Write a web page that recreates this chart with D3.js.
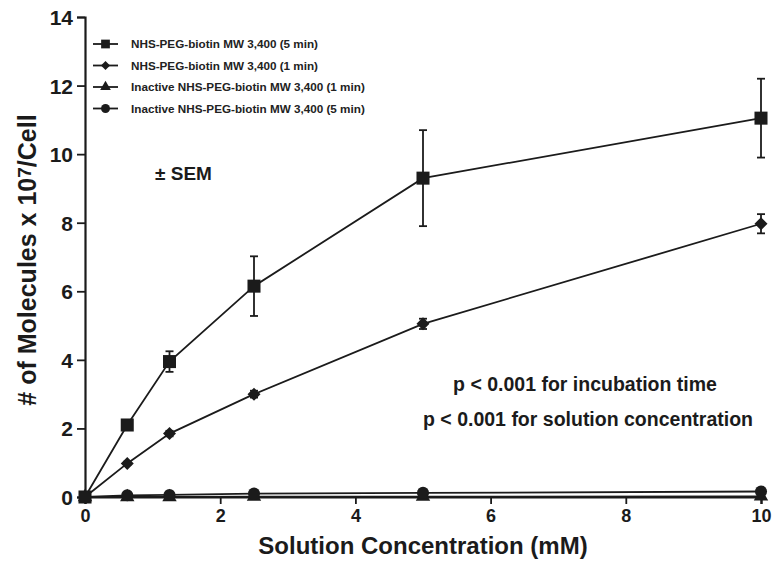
<!DOCTYPE html>
<html>
<head>
<meta charset="utf-8">
<script src="https://cdn.jsdelivr.net/npm/d3@7"></script>
<style>
  body { margin: 0; background: #fff; }
  svg { font-family: "Liberation Sans", Arial, sans-serif; font-weight: bold; }
</style>
</head>
<body>
<div id="chart"></div>
<script>
// concentrations (mM)
var conc = [0, 0.625, 1.25, 2.5, 5, 10];

var labels = [
  "NHS-PEG-biotin MW 3,400 (5 min)",
  "NHS-PEG-biotin MW 3,400 (1 min)",
  "Inactive NHS-PEG-biotin MW 3,400 (1 min)",
  "Inactive NHS-PEG-biotin MW 3,400 (5 min)"
];
var shapes = ["square", "diamond", "triangle", "circle"];

var active5 = [0, 2.1, 3.95, 6.15, 9.3, 11.05];
var active5Sem = [0, 0.1, 0.3, 0.87, 1.4, 1.15];
var active1 = [0, 0.98, 1.85, 3.0, 5.05, 7.97];
var active1Sem = [0, 0.05, 0.08, 0.1, 0.15, 0.28];
var inactive1 = [0, 0.0, 0.0, 0.01, 0.01, 0.02];
var inactive1Sem = [0, 0, 0, 0, 0, 0];
var inactive5 = [0, 0.05, 0.06, 0.1, 0.12, 0.16];
var inactive5Sem = [0, 0, 0, 0, 0, 0];

var xTicks = [0, 2, 4, 6, 8, 10];
var yTicks = [0, 2, 4, 6, 8, 10, 12, 14];

var series = [
  {name: labels[0], shape: shapes[0], vals: active5, sem: active5Sem},
  {name: labels[1], shape: shapes[1], vals: active1, sem: active1Sem},
  {name: labels[2], shape: shapes[2], vals: inactive1, sem: inactive1Sem},
  {name: labels[3], shape: shapes[3], vals: inactive5, sem: inactive5Sem}
];

var W = 773, H = 566;
var ink = "#1b1b1b";

var svg = d3.select("#chart").append("svg")
    .attr("width", W)
    .attr("height", H);

var x = d3.scaleLinear().domain([0, 10]).range([85, 761]);
var y = d3.scaleLinear().domain([0, 14]).range([497, 17]);

// axes
var xAxis = svg.append("g")
    .attr("transform", "translate(0," + y(0) + ")")
    .call(d3.axisBottom(x).tickValues(xTicks).tickSize(7).tickPadding(5).tickFormat(d3.format("d")));
var yAxis = svg.append("g")
    .attr("transform", "translate(" + x(0) + ",0)")
    .call(d3.axisLeft(y).tickValues(yTicks).tickSize(8).tickPadding(4).tickFormat(d3.format("d")));

[xAxis, yAxis].forEach(function(a) {
  a.select(".domain").attr("stroke", ink).attr("stroke-width", 2.2);
  a.selectAll(".tick line").attr("stroke", ink).attr("stroke-width", 1.8);
  a.selectAll(".tick text")
    .attr("fill", ink)
    .style("font-weight", "bold")
    .style("font-family", "'Liberation Sans', Arial, sans-serif");
});
xAxis.selectAll(".tick text").style("font-size", "18px");
yAxis.selectAll(".tick text").style("font-size", "21px").attr("dy", "0.36em");

// axis titles
svg.append("text")
    .attr("x", x(5))
    .attr("y", 554)
    .attr("text-anchor", "middle")
    .attr("fill", ink)
    .style("font-size", "24px")
    .text("Solution Concentration (mM)");

var yt = svg.append("text")
    .attr("transform", "translate(36,260) rotate(-90)")
    .attr("text-anchor", "middle")
    .attr("fill", ink)
    .style("font-size", "25px");
yt.append("tspan").text("# of Molecules x 10");
yt.append("tspan").attr("dy", -5).style("font-size", "19px").text("7");
yt.append("tspan").attr("dy", 5).text("/Cell");

// series
var line = d3.line()
    .x(function(d) { return x(d.c); })
    .y(function(d) { return y(d.v); });

function symbolFor(shape, big) {
  var k = big ? 1 : 0.55;
  if (shape == "square") return d3.symbol().type(d3.symbolSquare).size(170 * (big ? 1 : 0.45));
  if (shape == "diamond") {
    // square rotated 45 degrees
    var r = 6.5 * (big ? 1 : 0.7);
    return function() { return "M0," + (-r) + "L" + r + ",0L0," + r + "L" + (-r) + ",0Z"; };
  }
  if (shape == "triangle") return d3.symbol().type(d3.symbolTriangle).size(90 * k);
  return d3.symbol().type(d3.symbolCircle).size(115 * k);
}

var lineGroup = svg.append("g");
var markGroup = svg.append("g");

series.forEach(function(s) {
  var pts = conc.map(function(c, i) { return {c: c, v: s.vals[i], e: s.sem[i]}; });

  lineGroup.append("path")
      .datum(pts)
      .attr("d", line)
      .attr("fill", "none")
      .attr("stroke", ink)
      .attr("stroke-width", 1.8);

  var eb = markGroup.selectAll(null)
      .data(pts.filter(function(d) { return d.e > 0; }))
      .enter().append("g");
  eb.append("line")
      .attr("x1", function(d) { return x(d.c); })
      .attr("x2", function(d) { return x(d.c); })
      .attr("y1", function(d) { return y(d.v + d.e); })
      .attr("y2", function(d) { return y(d.v - d.e); })
      .attr("stroke", ink).attr("stroke-width", 1.8);
  eb.selectAll(".cap")
      .data(function(d) { return [d.v + d.e, d.v - d.e].map(function(v) { return {c: d.c, v: v}; }); })
      .enter().append("line")
      .attr("x1", function(d) { return x(d.c) - 4; })
      .attr("x2", function(d) { return x(d.c) + 4; })
      .attr("y1", function(d) { return y(d.v); })
      .attr("y2", function(d) { return y(d.v); })
      .attr("stroke", ink).attr("stroke-width", 1.8);

  markGroup.selectAll(null)
      .data(pts)
      .enter().append("path")
      .attr("transform", function(d) { return "translate(" + x(d.c) + "," + y(d.v) + ")"; })
      .attr("d", symbolFor(s.shape, true)())
      .attr("fill", ink);
});

// legend
var legend = svg.append("g");
series.forEach(function(s, i) {
  var ly = 44 + i * 21.5;
  legend.append("line")
      .attr("x1", 93).attr("x2", 118)
      .attr("y1", ly).attr("y2", ly)
      .attr("stroke", ink).attr("stroke-width", 1.8);
  legend.append("path")
      .attr("transform", "translate(105.5," + ly + ")")
      .attr("d", symbolFor(s.shape, false)())
      .attr("fill", ink);
  legend.append("text")
      .attr("x", 131)
      .attr("y", ly + 4)
      .attr("fill", "#222")
      .style("font-size", "11.7px")
      .text(s.name);
});

// annotations
svg.append("text")
    .attr("x", 155).attr("y", 180)
    .attr("fill", ink)
    .style("font-size", "19px")
    .text("\u00b1 SEM");

svg.append("text")
    .attr("x", 585).attr("y", 391)
    .attr("text-anchor", "middle")
    .attr("fill", ink)
    .style("font-size", "19.5px")
    .text("p < 0.001 for incubation time");
svg.append("text")
    .attr("x", 588).attr("y", 426)
    .attr("text-anchor", "middle")
    .attr("fill", ink)
    .style("font-size", "19.5px")
    .text("p < 0.001 for solution concentration");
</script>
</body>
</html>
